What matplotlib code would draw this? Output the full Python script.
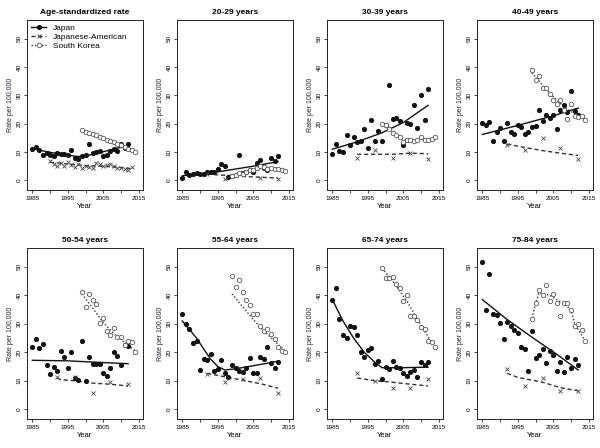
import numpy as np
import matplotlib
matplotlib.use("Agg")
import matplotlib.pyplot as plt
from matplotlib.lines import Line2D

plt.rcParams['font.family'] = ['Liberation Sans', 'DejaVu Sans']

# ======================================================
# Data
# ======================================================
jp_years = list(range(1985, 2013))
ja_years_asr = list(range(1990, 2014))
ja_years = [1992, 1997, 2002, 2007, 2012]
sk_years = list(range(1999, 2015))

titles = ["Age-standardized rate", "20-29 years", "30-39 years", "40-49 years",
          "50-54 years", "55-64 years", "65-74 years", "75-84 years"]

# Age-standardized
jp_asr = [11.2, 11.6, 10.6, 8.8, 9.8, 8.8, 8.6, 9.5, 9.4, 9.3, 9.0, 10.6, 8.0, 7.6,
          8.6, 8.8, 13.0, 9.6, 10.0, 10.2, 8.6, 9.0, 10.4, 11.2, 10.4, 13.0, 11.4, 13.0]
ja_asr = [7.0, 5.6, 5.0, 6.0, 5.2, 6.4, 5.4, 4.8, 5.8, 4.4, 5.0, 4.6, 4.4, 6.2,
          5.6, 5.0, 5.4, 5.8, 5.0, 4.4, 4.2, 4.0, 3.8, 4.8]
sk_asr = [17.9, 17.2, 16.8, 16.4, 15.9, 15.3, 14.8, 14.2, 13.8, 13.4, 12.8, 12.4,
          11.8, 11.2, 10.8, 10.0]
jp_fit_asr = ([1985, 1990, 1995, 1998, 2001, 2005, 2009, 2012],
              [11.2, 9.9, 8.9, 8.4, 8.9, 10.1, 11.4, 12.0])
ja_fit_asr = ([1990, 1995, 2000, 2005, 2010, 2013], [6.4, 5.8, 5.2, 5.0, 4.5, 4.2])
sk_fit_asr = ([1999, 2004, 2009, 2014], [17.6, 15.2, 12.6, 10.0])

# 20-29
jp_2029 = [0.7, 2.8, 1.9, 2.1, 2.6, 2.4, 2.1, 2.9, 3.0, 3.0, 4.1, 5.6, 5.1, 1.2,
           1.6, 1.8, 8.8, 2.6, 3.0, 3.6, 3.0, 6.2, 7.3, 4.2, 3.8, 8.0, 6.8, 8.5]
ja_2029 = [2.2, 0.4, 3.0, 0.7, 0.5]
sk_2029 = [1.4, 2.0, 2.6, 2.4, 2.9, 3.5, 3.8, 4.5, 5.1, 4.7, 4.1, 4.5, 4.1, 4.1, 3.8, 3.3]
jp_fit_2029 = ([1985, 1995, 2005, 2012], [1.6, 3.0, 5.0, 6.6])
ja_fit_2029 = ([1992, 2002, 2012], [2.2, 1.4, 0.8])
sk_fit_2029 = ([1999, 2004, 2008, 2014], [1.8, 3.4, 4.4, 3.3])

# 30-39
jp_3039 = [9.4, 12.9, 10.4, 10.0, 15.9, 12.6, 15.3, 13.5, 13.9, 18.2, 11.4, 21.2, 13.9, 17.4,
           13.8, 19.4, 33.5, 21.8, 22.0, 20.9, 12.4, 20.2, 20.0, 26.5, 18.6, 30.2, 21.2, 32.4]
ja_3039 = [8.0, 10.6, 8.0, 9.5, 7.6]
sk_3039 = [19.8, 19.4, 18.2, 16.7, 15.9, 15.3, 13.5, 14.1, 14.4, 13.9, 14.1, 15.3,
           14.4, 14.4, 14.7, 15.3]
jp_fit_3039 = ([1985, 1992, 1999, 2005, 2012], [11.0, 13.6, 16.8, 20.4, 26.5])
ja_fit_3039 = ([1992, 2002, 2007, 2012], [9.2, 9.2, 9.6, 9.4])
sk_fit_3039 = ([1999, 2002, 2005, 2008, 2014], [19.8, 17.0, 14.4, 14.2, 14.8])

# 40-49
jp_4049 = [20.2, 19.4, 20.6, 13.9, 17.1, 18.6, 13.9, 20.2, 17.1, 16.5, 19.4, 18.8, 16.5, 17.1,
           18.8, 19.1, 24.9, 20.9, 22.9, 22.1, 22.9, 18.2, 24.7, 26.5, 24.1, 31.5, 24.5, 22.9]
ja_4049 = [12.6, 10.8, 15.0, 11.5, 7.5]
sk_4049 = [39.1, 35.3, 36.8, 32.7, 32.6, 30.6, 28.2, 27.1, 28.2, 24.9, 21.8, 26.8,
           22.6, 22.4, 22.6, 21.2]
jp_fit_4049 = ([1985, 1995, 2005, 2012], [16.2, 19.4, 22.8, 25.5])
ja_fit_4049 = ([1992, 1997, 2002, 2007, 2012], [12.8, 11.6, 10.5, 9.6, 8.8])
sk_fit_4049 = ([1999, 2002, 2005, 2008, 2011, 2014], [38.0, 33.5, 29.5, 26.0, 23.5, 21.5])

# 50-54
jp_5054 = [21.8, 24.8, 21.6, 22.8, 15.4, 12.3, 15.0, 13.4, 20.4, 18.2, 14.6, 20.2, 11.0, 10.2,
           24.0, 10.0, 18.5, 16.0, 16.0, 16.0, 12.8, 11.8, 14.6, 20.2, 18.8, 15.6, 22.4, 22.2]
ja_5054 = [11.5, 11.5, 5.6, 9.5, 9.0]
sk_5054 = [41.2, 35.9, 40.4, 38.5, 37.1, 30.2, 32.1, 27.4, 25.9, 28.6, 25.3, 25.5,
           22.4, 24.1, 23.5, 20.0]
jp_fit_5054 = ([1985, 1995, 2005, 2012], [17.2, 17.0, 16.4, 16.0])
ja_fit_5054 = ([1992, 1993, 1997, 2002, 2007, 2012], [11.0, 10.4, 10.0, 9.2, 8.8, 8.2])
sk_fit_5054 = ([1999, 2002, 2005, 2008, 2011, 2014], [40.5, 35.5, 30.5, 26.5, 23.5, 20.5])

# 55-64
jp_5564 = [33.3, 30.0, 28.2, 23.3, 24.1, 13.8, 17.6, 17.3, 19.4, 13.5, 14.1, 17.3, 12.9, 11.2,
           15.5, 14.4, 13.5, 13.2, 14.5, 18.0, 12.7, 12.9, 18.2, 17.6, 22.0, 16.1, 14.5, 16.5]
ja_5564 = [12.5, 9.5, 10.8, 11.0, 5.8]
sk_5564 = [46.7, 42.9, 45.3, 41.2, 38.5, 36.7, 33.5, 33.3, 29.1, 27.6, 28.2, 26.5,
           24.7, 21.8, 20.6, 20.0]
jp_fit_5564 = ([1985, 1987, 1989, 1991, 1993, 1995, 1997, 2000, 2005, 2010, 2012],
               [31.0, 28.0, 25.0, 21.2, 17.6, 15.0, 13.8, 14.2, 15.3, 16.4, 16.9])
ja_fit_5564 = ([1992, 1997, 2002, 2007, 2012], [12.6, 11.4, 10.2, 9.0, 7.4])
sk_fit_5564 = ([1999, 2002, 2005, 2008, 2011, 2014], [40.5, 36.0, 31.5, 27.5, 24.0, 20.5])

# 65-74
jp_6574 = [38.5, 42.4, 31.8, 26.2, 24.9, 29.1, 28.8, 26.1, 20.0, 18.2, 20.8, 21.5, 15.9, 16.9,
           10.6, 14.7, 14.1, 17.1, 14.9, 14.5, 12.9, 11.8, 13.2, 13.9, 11.2, 16.5, 15.5, 16.7]
ja_6574 = [12.8, 9.8, 7.6, 7.5, 10.6]
sk_6574 = [49.6, 46.2, 45.9, 46.5, 43.8, 42.4, 38.0, 40.0, 32.9, 32.9, 31.2, 28.8,
           28.2, 24.1, 23.5, 21.8]
jp_fit_6574 = ([1985, 1988, 1991, 1994, 1997, 1999, 2005, 2012],
               [38.5, 31.0, 25.0, 20.0, 16.5, 14.6, 14.6, 14.8])
ja_fit_6574 = ([1992, 1997, 2002, 2007, 2012], [11.0, 10.0, 9.5, 8.8, 8.2])
sk_fit_6574 = ([1999, 2002, 2006, 2010, 2014], [49.5, 45.0, 38.0, 29.5, 21.5])

# 75-84
jp_7584 = [51.8, 35.0, 47.4, 33.3, 33.2, 30.2, 24.5, 30.6, 29.2, 27.9, 26.7, 22.0, 21.0, 13.5,
           27.4, 18.0, 18.9, 21.0, 16.3, 20.6, 19.0, 13.5, 16.6, 13.0, 18.4, 14.6, 17.5, 15.6]
ja_7584 = [14.0, 8.3, 11.0, 6.5, 6.3]
sk_7584 = [31.8, 37.3, 41.8, 40.0, 43.5, 38.0, 40.6, 37.3, 32.6, 37.3, 37.4, 34.9,
           29.4, 30.0, 27.9, 23.8]
jp_fit_7584 = ([1985, 1992, 1999, 2006, 2012], [38.5, 31.5, 25.3, 19.3, 13.8])
ja_fit_7584 = ([1992, 1995, 2002, 2007, 2012], [12.6, 11.2, 9.5, 7.6, 6.5])
sk_fit_7584 = ([1999, 2000, 2001, 2004, 2008, 2010, 2011, 2014],
               [32.0, 37.0, 41.0, 40.0, 37.0, 35.0, 30.0, 24.0])

panels = [
    (jp_asr, ja_years_asr, ja_asr, sk_asr, jp_fit_asr, ja_fit_asr, sk_fit_asr),
    (jp_2029, ja_years, ja_2029, sk_2029, jp_fit_2029, ja_fit_2029, sk_fit_2029),
    (jp_3039, ja_years, ja_3039, sk_3039, jp_fit_3039, ja_fit_3039, sk_fit_3039),
    (jp_4049, ja_years, ja_4049, sk_4049, jp_fit_4049, ja_fit_4049, sk_fit_4049),
    (jp_5054, ja_years, ja_5054, sk_5054, jp_fit_5054, ja_fit_5054, sk_fit_5054),
    (jp_5564, ja_years, ja_5564, sk_5564, jp_fit_5564, ja_fit_5564, sk_fit_5564),
    (jp_6574, ja_years, ja_6574, sk_6574, jp_fit_6574, ja_fit_6574, sk_fit_6574),
    (jp_7584, ja_years, ja_7584, sk_7584, jp_fit_7584, ja_fit_7584, sk_fit_7584),
]

# ======================================================
# Figure
# ======================================================
fig = plt.figure(figsize=(6, 4.48), dpi=100)
W, H = 600.0, 448.0
lefts = [27, 177, 327, 477]
rows = [(20, 190), (248, 419)]

dash_ja = (0, (3, 2))
dot_sk = (0, (1, 1.5))

for i, (jp, ja_x, ja, sk, jp_fit, ja_fit, sk_fit) in enumerate(panels):
    r, c = divmod(i, 4)
    top, bot = rows[r]
    ax = fig.add_axes([lefts[c] / W, 1 - bot / H, 116 / W, (bot - top) / H])

    # fitted lines
    ax.plot(jp_fit[0], jp_fit[1], color="#111111", lw=1.0)
    ax.plot(ja_fit[0], ja_fit[1], color="#333333", lw=1.0, linestyle=dash_ja)
    ax.plot(sk_fit[0], sk_fit[1], color="#333333", lw=1.0, linestyle=dot_sk)

    # observed points
    ax.plot(jp_years, jp, 'o', ms=2.7, color="#111111", mec="#111111")
    ax.plot(ja_x, ja, 'x', ms=3.0, mew=0.6, color="#444444")
    ax.plot(sk_years, sk, 'o', ms=3.2, mfc="white", mec="#555555", mew=0.6)

    ax.set_xlim(1983.5, 2016.2)
    ax.set_ylim(-3.4, 56.6)
    ax.set_xticks([1985, 1990, 1995, 2000, 2005, 2010, 2015])
    ax.set_xticklabels(["1985", "", "1995", "", "2005", "", "2015"])
    ax.set_yticks([0, 10, 20, 30, 40, 50])
    ax.tick_params(axis='both', direction='out', length=2.5, width=0.6,
                   labelsize=4.6, pad=1.5, color="#222222")
    for lab in ax.get_yticklabels():
        lab.set_rotation(90)
        lab.set_va("center")
    for sp in ax.spines.values():
        sp.set_linewidth(0.7)
        sp.set_color("#222222")

    ax.set_title(titles[i], fontsize=6, fontweight="bold", pad=4)
    ax.set_xlabel("Year", fontsize=5.5, labelpad=2)
    ax.set_ylabel("Rate per 100,000", fontsize=5, labelpad=2, color="#222233")

    if i == 0:
        handles = [
            Line2D([], [], color="#111111", lw=1.0, marker='o', ms=2.7),
            Line2D([], [], color="#333333", lw=1.0, linestyle=dash_ja, marker='x',
                   ms=3.0, mew=0.6),
            Line2D([], [], color="#333333", lw=1.0, linestyle=dot_sk, marker='o',
                   ms=3.2, mfc="white", mec="#555555", mew=0.6),
        ]
        ax.legend(handles, ["Japan", "Japanese-American", "South Korea"],
                  loc="upper left", bbox_to_anchor=(0.0, 1.0), frameon=False,
                  fontsize=6, handlelength=1.8, handletextpad=0.8,
                  labelspacing=0.15, borderaxespad=0.3, borderpad=0.2)

plt.savefig("out.png", dpi=100)
plt.close()
